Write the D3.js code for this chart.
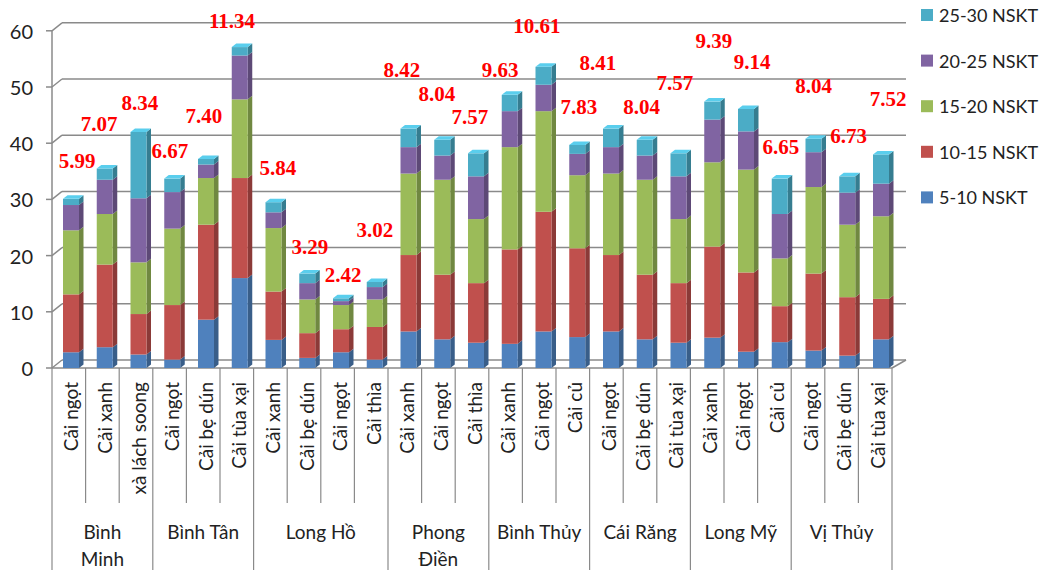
<!DOCTYPE html>
<html><head><meta charset="utf-8">
<script src="https://cdn.jsdelivr.net/npm/d3@7"></script>
<style>body{margin:0;background:#fff}svg{display:block}</style>
</head><body><svg id="c" width="1047" height="572"></svg>
<script>
// ---------------- data ----------------
const groups = ["Bình\nMinh", "Bình Tân", "Long Hồ", "Phong\nĐiền", "Bình Thủy", "Cái Răng", "Long Mỹ", "Vị Thủy"];
const groupSizes = [3, 3, 4, 3, 3, 3, 3, 3];
const categories = ["Cải ngọt","Cải xanh","xà lách soong","Cải ngọt","Cải bẹ dún","Cải tùa xại",
  "Cải xanh","Cải bẹ dún","Cải ngọt","Cải thìa","Cải xanh","Cải ngọt","Cải thìa",
  "Cải xanh","Cải ngọt","Cải củ","Cải ngọt","Cải bẹ dún","Cải tùa xại",
  "Cải xanh","Cải ngọt","Cải củ","Cải ngọt","Cải bẹ dún","Cải tùa xại"];
const seriesNames = ["5-10 NSKT", "10-15 NSKT", "15-20 NSKT", "20-25 NSKT", "25-30 NSKT"];
const s5_10  = [2.8,3.7,2.4,1.5,8.6,16.0,5.0,1.8,2.8,1.5,6.5,5.1,4.5,4.3,6.5,5.5,6.5,5.1,4.5,5.4,2.9,4.6,3.1,2.2,5.1];
const s10_15 = [10.3,14.7,7.2,9.7,16.9,17.8,8.6,4.4,4.1,5.8,13.6,11.5,10.6,16.8,21.3,15.8,13.6,11.5,10.6,16.2,14.1,6.4,13.7,10.4,7.2];
const s15_20 = [11.4,9.0,9.2,13.6,8.3,14.0,11.3,6.0,4.3,4.9,14.5,16.9,11.4,18.2,17.9,13.0,14.5,16.9,11.4,15.0,18.3,8.5,15.4,12.9,14.7];
const s20_25 = [4.5,6.1,11.4,6.5,2.4,7.8,2.8,2.9,0.7,2.2,4.7,4.3,7.6,6.4,4.7,3.8,4.7,4.3,7.6,7.6,6.8,7.9,6.2,5.7,5.8];
const s25_30 = [1.1,2.0,11.8,2.4,1.0,1.5,1.8,1.7,0.5,0.9,3.3,2.8,4.1,2.9,3.2,1.6,3.3,2.8,4.1,3.2,4.0,6.3,2.4,2.9,5.2];
const ratioLabels = ["5.99","7.07","8.34","6.67","7.40","11.34","5.84","3.29","2.42","3.02","8.42","8.04","7.57",
  "9.63","10.61","7.83","8.41","8.04","7.57","9.39","9.14","6.65","8.04","6.73","7.52"];
// annotation anchors in value units (hand-placed text boxes in the original)
const ratioLevel = [36.8,43.5,47.1,38.7,44.9,61.7,35.5,21.6,16.5,24.5,53.1,48.8,44.6,53.1,60.9,46.4,54.2,46.4,50.8,58.1,54.4,39.4,50.1,41.2,47.8];
const ratioShift = [0.18,-0.17,0.04,-0.07,-0.06,-0.23,0.13,0.08,0.06,0,-0.2,-0.16,-0.18,-0.29,-0.2,0.05,-0.39,-0.09,-0.11,0.05,0.18,0.03,0,0.04,0.21];
const yTicks = [0, 10, 20, 30, 40, 50, 60];

// ---------------- setup ----------------
const colors = ["#4F81BD", "#C0504D", "#9BBB59", "#8064A2", "#4BACC6"];
const series = [s5_10, s10_15, s15_20, s20_25, s25_30];
const svg = d3.select("#c");
const n = categories.length;
const y = d3.scaleLinear().domain([0, 60]).range([368, 30.8]);
const xCat = d3.scaleBand().domain(d3.range(n)).range([52, 892]);
const xBar = d3.scaleLinear().domain([0, n - 1]).range([63, 873]);
const barW = 16;
const DX = 10, DY = 8;      // wall depth
const bdx = 4.5, bdy = 3.5;  // bar depth
const gridColor = "#8a8a8a";

const data = categories.map((c, i) => {
  const o = { i };
  seriesNames.forEach((s, k) => o[s] = series[k][i]);
  return o;
});
const stack = d3.stack().keys(seriesNames)(data);

// walls / gridlines
const g = svg.append("g");
yTicks.forEach(v => {
  const yf = y(v), yb = y(v) - DY;
  g.append("line").attr("x1", 52).attr("y1", yf).attr("x2", 52 + DX).attr("y2", yb)
    .attr("stroke", gridColor).attr("stroke-width", 1.5);
  g.append("line").attr("x1", 52 + DX).attr("y1", yb).attr("x2", 892 + DX + 4).attr("y2", yb)
    .attr("stroke", gridColor).attr("stroke-width", 1.5);
  g.append("line").attr("x1", 46).attr("y1", yf).attr("x2", 52).attr("y2", yf)
    .attr("stroke", gridColor).attr("stroke-width", 1.5);
  g.append("text").attr("x", 33).attr("y", yf).attr("text-anchor", "end")
    .attr("dominant-baseline", "central").attr("font-family", "Lato, 'Open Sans', sans-serif")
    .attr("font-size", 20).attr("fill", "#222").text(v);
});
// left axis and floor
g.append("line").attr("x1", 52).attr("y1", y(60)).attr("x2", 52).attr("y2", y(0))
  .attr("stroke", gridColor).attr("stroke-width", 1.5);
g.append("line").attr("x1", 52).attr("y1", y(0)).attr("x2", 892).attr("y2", y(0))
  .attr("stroke", gridColor).attr("stroke-width", 1.5);
g.append("line").attr("x1", 892).attr("y1", y(0)).attr("x2", 892 + DX + 4).attr("y2", y(0) - DY)
  .attr("stroke", gridColor).attr("stroke-width", 1.5);

// bars (3D-ish)
const bars = svg.append("g");
stack.forEach((layer, k) => {
  const base = d3.color(colors[k]);
  const side = base.darker(0.9);
  layer.forEach((d, i) => {
    const x = xBar(i), yt = y(d[1]), yb = y(d[0]);
    if (d[1] - d[0] <= 0) return;
    bars.append("path")
      .attr("d", `M${x + barW},${yb} L${x + barW + bdx},${yb - bdy} L${x + barW + bdx},${yt - bdy} L${x + barW},${yt} Z`)
      .attr("fill", side);
    bars.append("rect").attr("x", x).attr("y", yt).attr("width", barW).attr("height", yb - yt)
      .attr("fill", colors[k]);
    if (k === stack.length - 1) {
      bars.append("path")
        .attr("d", `M${x},${yt} L${x + bdx},${yt - bdy} L${x + barW + bdx},${yt - bdy} L${x + barW},${yt} Z`)
        .attr("fill", base.brighter(0.5));
    }
  });
});

// ratio labels
svg.append("g").selectAll("text").data(ratioLabels).join("text")
  .attr("x", (d, i) => xBar(i) + barW / 2 + ratioShift[i] * xCat.bandwidth())
  .attr("y", (d, i) => y(ratioLevel[i]))
  .attr("text-anchor", "middle").attr("dominant-baseline", "central")
  .attr("font-family", "'Liberation Serif', 'Times New Roman', serif")
  .attr("font-weight", "bold").attr("font-size", 21).attr("fill", "#FF0000")
  .text(d => d);

// category table
const cat = svg.append("g");
d3.range(n + 1).forEach(i => {
  const x = i < n ? xCat(i) : xCat(n - 1) + xCat.bandwidth();
  cat.append("line").attr("x1", x).attr("y1", 368).attr("x2", x).attr("y2", 503)
    .attr("stroke", gridColor).attr("stroke-width", 1.2);
});
categories.forEach((c, i) => {
  cat.append("text")
    .attr("transform", `translate(${xCat(i) + xCat.bandwidth() / 2 + 2},382) rotate(-90)`)
    .attr("text-anchor", "end").attr("dominant-baseline", "central")
    .attr("font-family", "Lato, 'Open Sans', sans-serif").attr("font-size", 19).attr("fill", "#222")
    .text(c);
});
let start = 0;
groups.forEach((gname, gi) => {
  const a = xCat(start);
  const end = start + groupSizes[gi];
  const b = xCat(end - 1) + xCat.bandwidth();
  if (gi === 0) cat.append("line").attr("x1", a).attr("y1", 503).attr("x2", a).attr("y2", 570).attr("stroke", gridColor).attr("stroke-width", 1.2);
  cat.append("line").attr("x1", b).attr("y1", 503).attr("x2", b).attr("y2", 570).attr("stroke", gridColor).attr("stroke-width", 1.2);
  const lines = gname.split("\n");
  lines.forEach((ln, li) => {
    cat.append("text").attr("x", (a + b) / 2).attr("y", 531 + li * 27)
      .attr("text-anchor", "middle").attr("dominant-baseline", "central")
      .attr("font-family", "Lato, 'Open Sans', sans-serif").attr("font-size", 19).attr("fill", "#222")
      .text(ln);
  });
  start = end;
});

// legend
const legendRows = seriesNames.map((s, k) => ({ s, k })).reverse();
const lg = svg.append("g");
legendRows.forEach((r, j) => {
  const cy = 15 + j * 45.6;
  lg.append("rect").attr("x", 921).attr("y", cy - 6).attr("width", 12).attr("height", 12).attr("fill", colors[r.k]);
  lg.append("text").attr("x", 939).attr("y", cy).attr("dominant-baseline", "central")
    .attr("font-family", "Lato, 'Open Sans', sans-serif").attr("font-size", 18).attr("fill", "#222").text(r.s);
});
</script>
</body></html>
